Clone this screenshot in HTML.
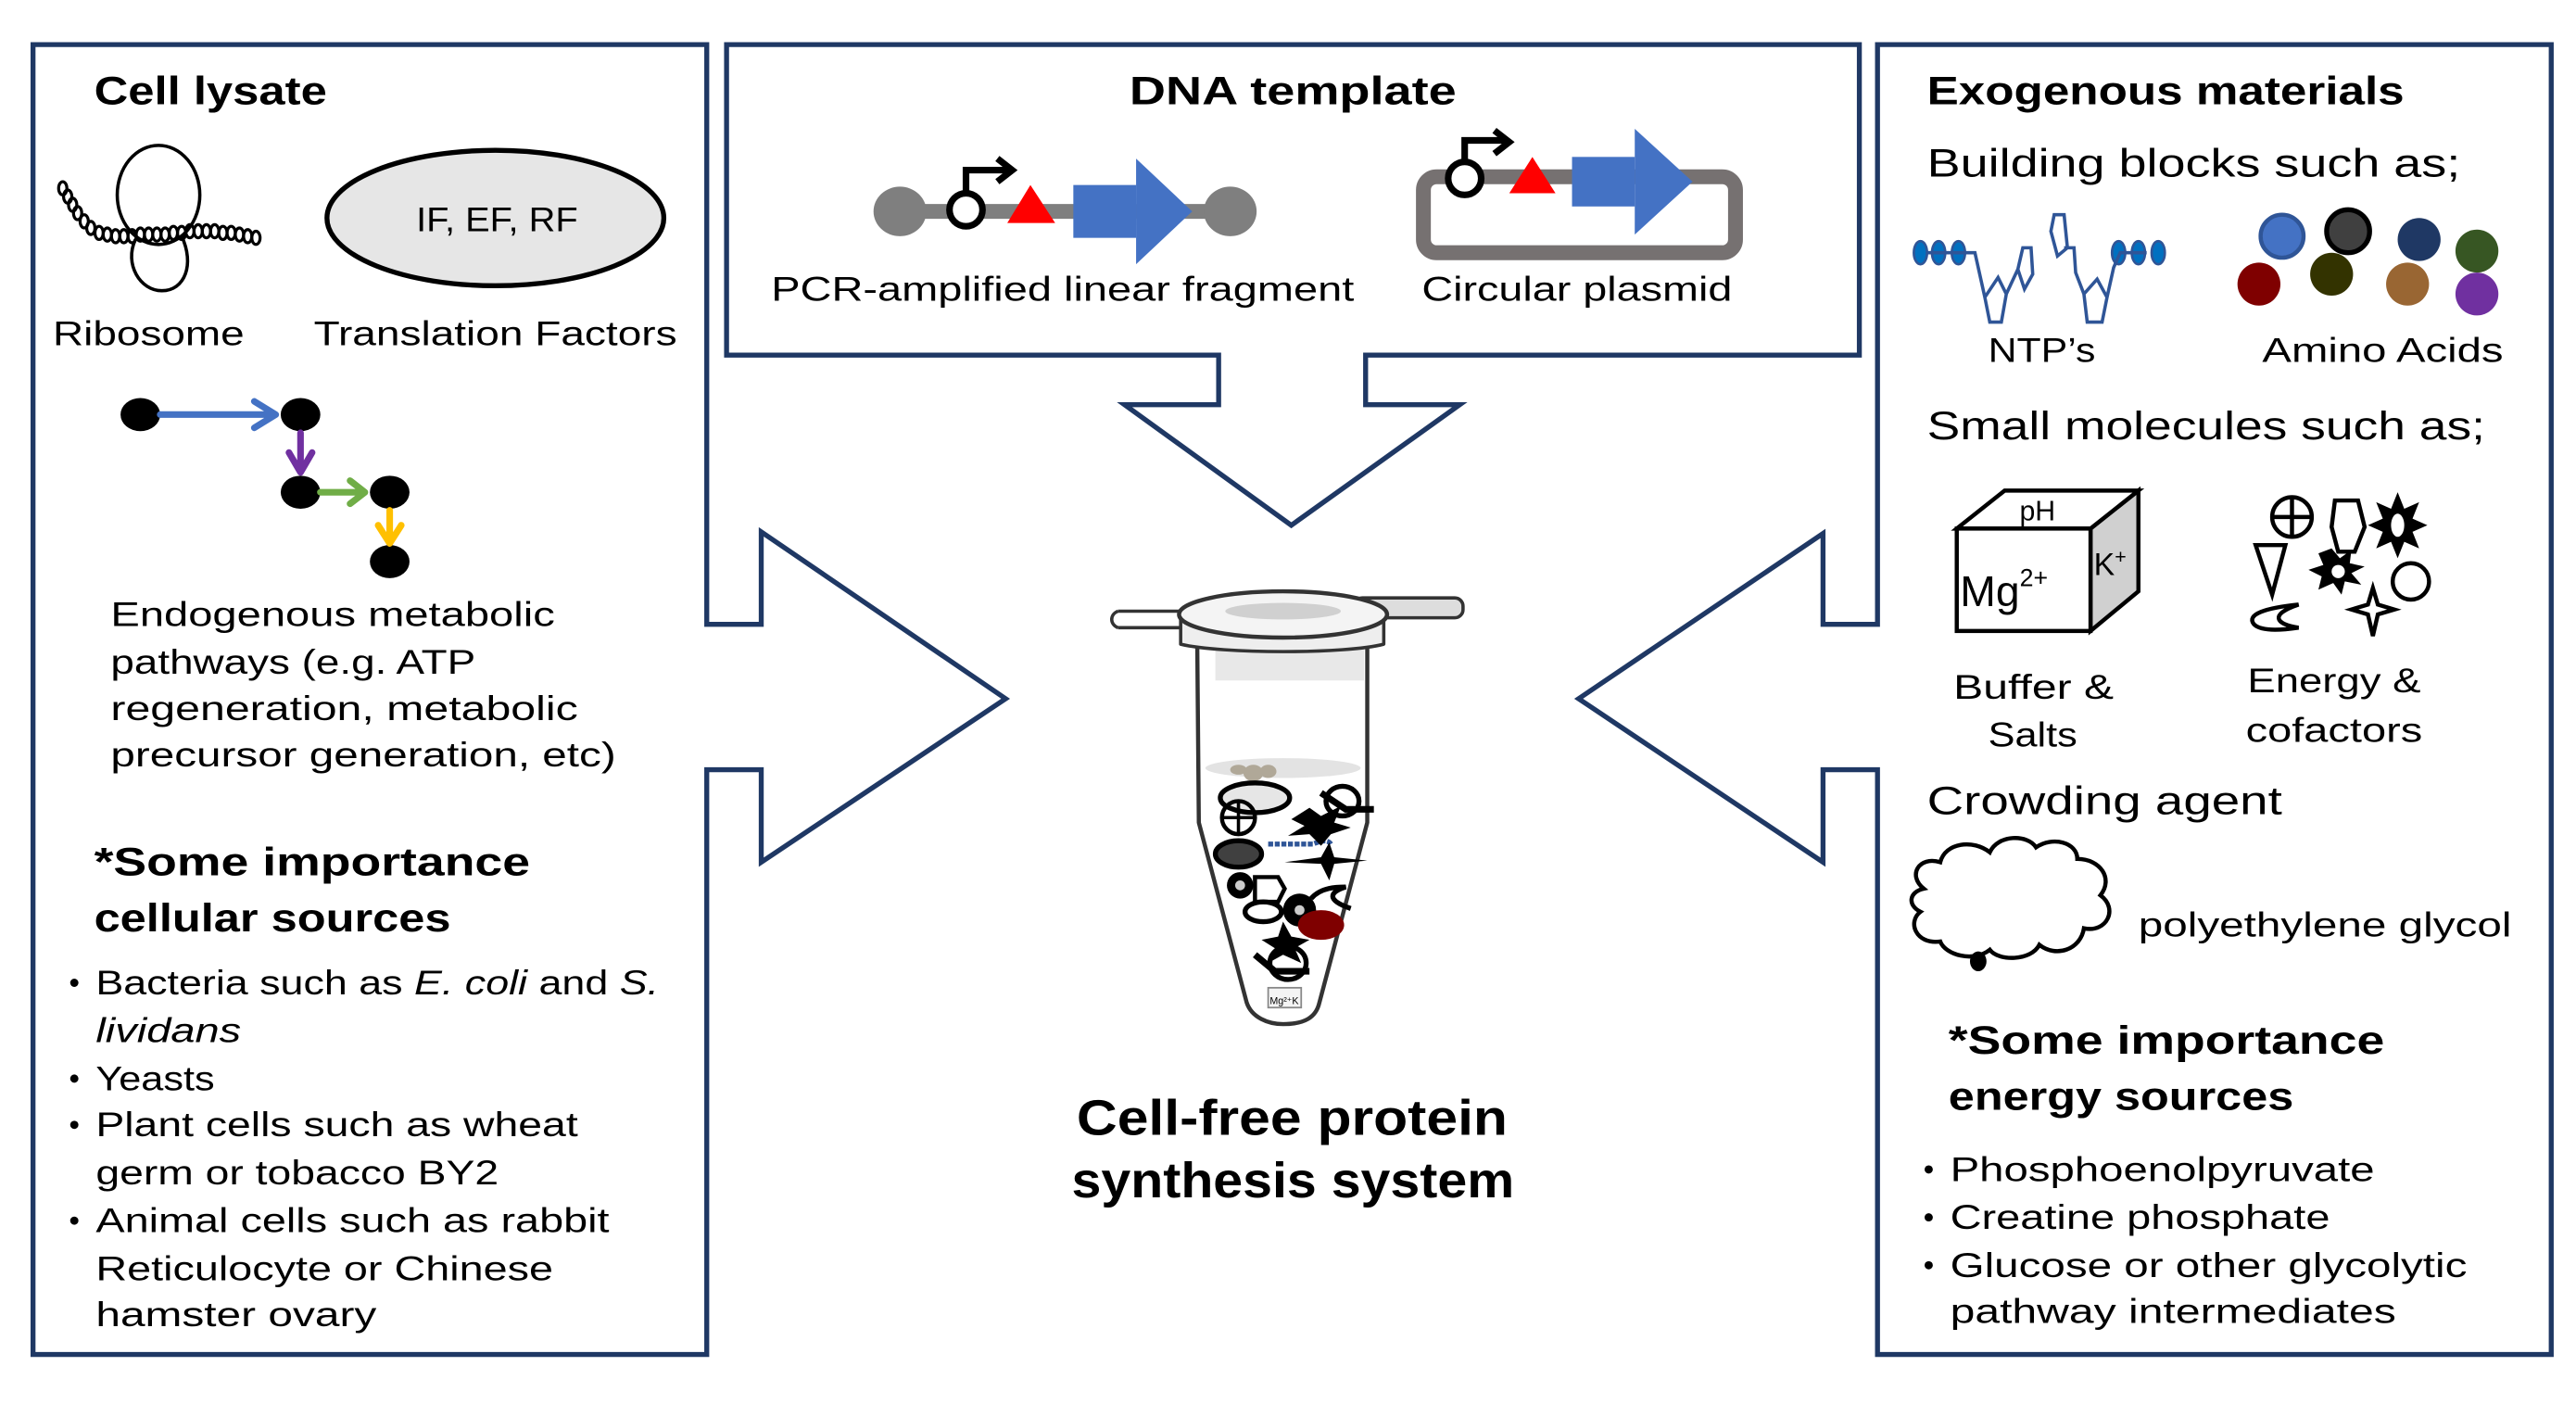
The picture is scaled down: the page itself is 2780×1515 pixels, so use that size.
<!DOCTYPE html>
<html><head><meta charset="utf-8"><style>
html,body{margin:0;padding:0;background:#fff;}
svg{display:block;}
text{font-family:"Liberation Sans",sans-serif;fill:#000;}
.r{font-size:21px;}
.b{font-size:24px;font-weight:bold;}
</style></head><body>
<svg width="2780" height="1515" viewBox="0 0 1560 850" preserveAspectRatio="none" xmlns="http://www.w3.org/2000/svg">
<rect width="1560" height="850" fill="#fff"/>
<g fill="none" stroke="#1f3864" stroke-width="3">
<path d="M20,27 L428,27 L428,378 L461,378 L461,322 L609,423 L461,522 L461,466 L428,466 L428,820 L20,820 Z"/>
<path d="M440,27 L1126,27 L1126,215 L827,215 L827,245 L884,245 L782,318 L681,245 L738,245 L738,215 L440,215 Z"/>
<path d="M1137,27 L1545,27 L1545,820 L1137,820 L1137,466 L1104,466 L1104,522 L956,423 L1104,323 L1104,378 L1137,378 Z"/>
</g>

<!-- LEFT -->
<text class="b" x="57" y="63" textLength="141" lengthAdjust="spacingAndGlyphs">Cell lysate</text>
<g fill="none" stroke="#000" stroke-width="2">
<ellipse cx="96" cy="118" rx="25" ry="30"/>
<path d="M82,145 C75,160 85,176 98,176 C112,176 118,160 110,143"/>
</g>
<g fill="none" stroke="#000" stroke-width="1.8">
<ellipse cx="38" cy="114" rx="2.5" ry="4"/><ellipse cx="41" cy="119" rx="2.5" ry="4"/><ellipse cx="44" cy="124" rx="2.5" ry="4"/><ellipse cx="47" cy="129" rx="2.5" ry="4"/><ellipse cx="51" cy="134" rx="2.5" ry="4"/><ellipse cx="55" cy="138" rx="2.5" ry="4"/><ellipse cx="60" cy="141" rx="2.5" ry="4"/><ellipse cx="65" cy="142" rx="2.5" ry="4"/><ellipse cx="70" cy="143" rx="2.5" ry="4"/><ellipse cx="75" cy="143" rx="2.5" ry="4"/><ellipse cx="80" cy="143" rx="2.5" ry="4"/><ellipse cx="85" cy="142" rx="2.5" ry="4"/><ellipse cx="90" cy="142" rx="2.5" ry="4"/><ellipse cx="95" cy="142" rx="2.5" ry="4"/><ellipse cx="100" cy="142" rx="2.5" ry="4"/><ellipse cx="105" cy="141" rx="2.5" ry="4"/><ellipse cx="110" cy="141" rx="2.5" ry="4"/><ellipse cx="115" cy="140" rx="2.5" ry="4"/><ellipse cx="120" cy="140" rx="2.5" ry="4"/><ellipse cx="125" cy="140" rx="2.5" ry="4"/><ellipse cx="130" cy="140" rx="2.5" ry="4"/><ellipse cx="135" cy="141" rx="2.5" ry="4"/><ellipse cx="140" cy="141" rx="2.5" ry="4"/><ellipse cx="145" cy="142" rx="2.5" ry="4"/><ellipse cx="150" cy="143" rx="2.5" ry="4"/><ellipse cx="155" cy="144" rx="2.5" ry="4"/>
</g>
<ellipse cx="300" cy="132" rx="102" ry="41" fill="#e6e6e6" stroke="#000" stroke-width="3"/>
<text class="r" x="252" y="140" textLength="98" lengthAdjust="spacingAndGlyphs">IF, EF, RF</text>
<text class="r" x="32" y="209" textLength="116" lengthAdjust="spacingAndGlyphs">Ribosome</text>
<text class="r" x="190" y="209" textLength="220" lengthAdjust="spacingAndGlyphs">Translation Factors</text>

<g fill="#000">
<ellipse cx="85" cy="251" rx="12" ry="10"/><ellipse cx="182" cy="251" rx="12" ry="10"/><ellipse cx="182" cy="298" rx="12" ry="10"/><ellipse cx="236" cy="298" rx="12" ry="10"/><ellipse cx="236" cy="340" rx="12" ry="10"/>
</g>
<g fill="none" stroke-width="4" stroke-linecap="round" stroke-linejoin="round">
<path d="M97,251 H166 M154,243 L167,251 L154,259" stroke="#4472c4"/>
<path d="M182,262 V284 M175,274 L182,286 L189,274" stroke="#7030a0"/>
<path d="M194,298 H220 M212,291 L221,298 L212,305" stroke="#70ad47"/>
<path d="M236,309 V327 M229,318 L236,329 L243,318" stroke="#ffc000"/>
</g>
<text class="r" x="67" y="379" textLength="269" lengthAdjust="spacingAndGlyphs">Endogenous metabolic</text>
<text class="r" x="67" y="408" textLength="221" lengthAdjust="spacingAndGlyphs">pathways (e.g. ATP</text>
<text class="r" x="67" y="436" textLength="283" lengthAdjust="spacingAndGlyphs">regeneration, metabolic</text>
<text class="r" x="67" y="464" textLength="306" lengthAdjust="spacingAndGlyphs">precursor generation, etc)</text>
<text class="b" x="57" y="530" textLength="264" lengthAdjust="spacingAndGlyphs">*Some importance</text>
<text class="b" x="57" y="564" textLength="216" lengthAdjust="spacingAndGlyphs">cellular sources</text>
<g class="r">
<circle cx="45" cy="595" r="2.5"/><circle cx="45" cy="653" r="2.5"/><circle cx="45" cy="681" r="2.5"/><circle cx="45" cy="739" r="2.5"/>
<text class="r" x="58" y="602" textLength="341" lengthAdjust="spacingAndGlyphs">Bacteria such as <tspan font-style="italic">E. coli</tspan> and <tspan font-style="italic">S.</tspan></text>
<text class="r" x="58" y="631" font-style="italic" textLength="88" lengthAdjust="spacingAndGlyphs">lividans</text>
<text class="r" x="58" y="660" textLength="72" lengthAdjust="spacingAndGlyphs">Yeasts</text>
<text class="r" x="58" y="688" textLength="292" lengthAdjust="spacingAndGlyphs">Plant cells such as wheat</text>
<text class="r" x="58" y="717" textLength="244" lengthAdjust="spacingAndGlyphs">germ or tobacco BY2</text>
<text class="r" x="58" y="746" textLength="311" lengthAdjust="spacingAndGlyphs">Animal cells such as rabbit</text>
<text class="r" x="58" y="775" textLength="277" lengthAdjust="spacingAndGlyphs">Reticulocyte or Chinese</text>
<text class="r" x="58" y="803" textLength="170" lengthAdjust="spacingAndGlyphs">hamster ovary</text>
</g>

<!-- DNA -->
<text class="b" x="684" y="63" textLength="198" lengthAdjust="spacingAndGlyphs">DNA template</text>
<line x1="545" y1="128" x2="745" y2="128" stroke="#7f7f7f" stroke-width="9"/>
<ellipse cx="545" cy="128" rx="16" ry="15" fill="#7f7f7f"/><ellipse cx="745" cy="128" rx="16" ry="15" fill="#7f7f7f"/>
<circle cx="585" cy="127" r="10" fill="#fff" stroke="#000" stroke-width="4"/>
<path d="M585,117 V103 H612 M604,96 L613,103 L604,110" fill="none" stroke="#000" stroke-width="4"/>
<polygon points="610,135 624,112 639,135" fill="#f00"/>
<rect x="650" y="112" width="38" height="32" fill="#4472c4"/>
<polygon points="688,96 722,128 688,160" fill="#4472c4"/>
<text class="r" x="467" y="182" textLength="353" lengthAdjust="spacingAndGlyphs">PCR-amplified linear fragment</text>
<rect x="862" y="107" width="189" height="46" rx="8" fill="none" stroke="#767171" stroke-width="9"/>
<circle cx="887" cy="108" r="10" fill="#fff" stroke="#000" stroke-width="4"/>
<path d="M887,98 V85 H913 M905,79 L914,86 L905,93" fill="none" stroke="#000" stroke-width="4"/>
<polygon points="914,117 928,95 942,117" fill="#f00"/>
<rect x="952" y="95" width="38" height="30" fill="#4472c4"/>
<polygon points="990,78 1025,110 990,142" fill="#4472c4"/>
<text class="r" x="861" y="182" textLength="188" lengthAdjust="spacingAndGlyphs">Circular plasmid</text>

<!-- CENTER TUBE -->
<g stroke-linejoin="round">
<path d="M725,385 L726,498 L755,607 C758,616 768,620 777,620 C790,620 797,616 799,607 L828,498 L828,385" fill="#fff" stroke="#333" stroke-width="2.5"/>
<rect x="736" y="390" width="90" height="22" fill="#e8e8e8"/>
<ellipse cx="777" cy="465" rx="47" ry="6" fill="#e3e3e3"/>
<path d="M677,370 H730 M677,380 H730 M677,370 C672,372 672,378 677,380" fill="none" stroke="#333" stroke-width="2"/>
<rect x="820" y="362" width="66" height="12" rx="5" fill="#ddd" stroke="#333" stroke-width="2"/>
<path d="M715,372 L715,390 C740,396 815,396 838,390 L838,372" fill="#eee" stroke="#333" stroke-width="2"/>
<ellipse cx="777" cy="372" rx="63" ry="14" fill="#f4f4f4" stroke="#333" stroke-width="2.5"/>
<ellipse cx="777" cy="370" rx="35" ry="5" fill="#d0d0d0"/>
</g>
<g>
<ellipse cx="750" cy="466" rx="5" ry="3" fill="#b0a898"/><ellipse cx="759" cy="468" rx="6" ry="5" fill="#b0a898"/><ellipse cx="768" cy="467" rx="5" ry="4" fill="#b0a898"/>
<ellipse cx="760" cy="483" rx="21" ry="9" fill="#e6e6e6" stroke="#000" stroke-width="3"/>
<circle cx="750" cy="495" r="10" fill="none" stroke="#000" stroke-width="2.5"/><path d="M740,495 H760 M750,485 V505" stroke="#000" stroke-width="2"/>
<ellipse cx="750" cy="517" rx="14" ry="8" fill="#404040" stroke="#000" stroke-width="3"/>
<path d="M768,511 H795 C800,509 804,508 806,511" fill="none" stroke="#2f5597" stroke-width="3" stroke-dasharray="3 1"/>
<ellipse cx="813" cy="485" rx="10" ry="9" fill="none" stroke="#000" stroke-width="3"/>
<path d="M800,480 L815,490 H832" stroke="#000" stroke-width="4" fill="none"/>
<polygon points="782,496 793,489 800,494 812,488 808,498 818,501 806,505 800,512 793,505 780,506 790,500" fill="#000"/>
<polygon points="778,522 800,519 805,510 808,519 828,521 808,523 805,533 800,523" fill="#000"/>
<circle cx="751" cy="536" r="8" fill="#000"/><circle cx="751" cy="536" r="3" fill="#ccc"/>
<polygon points="760,531 774,531 778,538 774,546 760,546" fill="none" stroke="#000" stroke-width="2.5"/>
<ellipse cx="765" cy="552" rx="11" ry="6" fill="none" stroke="#000" stroke-width="3"/>
<circle cx="787" cy="551" r="10" fill="#000"/><circle cx="787" cy="551" r="3" fill="#ccc"/>
<path d="M794,544 C800,537 810,537 815,537 C805,540 803,545 818,550" fill="none" stroke="#000" stroke-width="3"/>
<ellipse cx="800" cy="560" rx="14" ry="9" fill="#7f0000"/>
<polygon points="777,558 782,567 793,569 784,574 788,583 777,578 768,583 772,574 764,569 774,567" fill="#000"/>
<ellipse cx="780" cy="583" rx="11" ry="10" fill="none" stroke="#000" stroke-width="3"/>
<path d="M760,578 L772,588 H793" stroke="#000" stroke-width="4" fill="none"/>
<rect x="768" y="598" width="20" height="12" fill="#f4f4f4" stroke="#888" stroke-width="1"/><text x="769" y="608" font-size="6" fill="#555">Mg²⁺K</text>
</g>
<text x="652" y="687" font-size="30" font-weight="bold" textLength="261" lengthAdjust="spacingAndGlyphs">Cell-free protein</text>
<text x="649" y="725" font-size="30" font-weight="bold" textLength="268" lengthAdjust="spacingAndGlyphs">synthesis system</text>

<!-- RIGHT -->
<text class="b" x="1167" y="63" textLength="289" lengthAdjust="spacingAndGlyphs">Exogenous materials</text>
<text x="1167" y="107" font-size="24" textLength="323" lengthAdjust="spacingAndGlyphs">Building blocks such as;</text>
<g fill="#0070c0" stroke="#2f5597" stroke-width="1.5">
<ellipse cx="1163" cy="153" rx="4" ry="7"/><ellipse cx="1174" cy="153" rx="4" ry="7"/><ellipse cx="1186" cy="153" rx="4" ry="7"/>
<ellipse cx="1283" cy="153" rx="4" ry="7"/><ellipse cx="1295" cy="153" rx="4" ry="7"/><ellipse cx="1307" cy="153" rx="4" ry="7"/>
</g>
<path d="M1167,153 H1196 L1202,180 L1210,168 L1215,178 L1222,163 L1225,150 L1230,150 L1231,166 L1226,175 L1222,163 M1202,180 L1205,195 H1212 L1215,178 M1244,130 L1250,130 L1252,150 L1246,155 L1242,140 Z M1250,150 L1256,150 L1257,165 L1262,178 L1270,169 L1276,180 L1280,162 L1284,153 H1300 M1262,178 L1264,195 L1273,195 L1276,180" fill="none" stroke="#2f5597" stroke-width="2"/>
<circle cx="1382" cy="143" r="13" fill="#4472c4" stroke="#2f5597" stroke-width="2.5"/>
<circle cx="1422" cy="140" r="13" fill="#404040" stroke="#000" stroke-width="3"/>
<circle cx="1465" cy="145" r="13" fill="#1f3864"/>
<circle cx="1500" cy="152" r="13" fill="#375623"/>
<circle cx="1368" cy="172" r="13" fill="#7f0000"/>
<circle cx="1412" cy="166" r="13" fill="#333300"/>
<circle cx="1458" cy="172" r="13" fill="#996633"/>
<circle cx="1500" cy="178" r="13" fill="#7030a0"/>
<text class="r" x="1204" y="219" textLength="65" lengthAdjust="spacingAndGlyphs">NTP’s</text>
<text class="r" x="1370" y="219" textLength="146" lengthAdjust="spacingAndGlyphs">Amino Acids</text>
<text x="1167" y="266" font-size="24" textLength="338" lengthAdjust="spacingAndGlyphs">Small molecules such as;</text>
<polygon points="1266,320 1295,297 1295,358 1266,382" fill="#d0d0d0" stroke="#000" stroke-width="2.5"/>
<polygon points="1185,320 1214,297 1295,297 1266,320" fill="#fff" stroke="#000" stroke-width="2.5"/>
<rect x="1185" y="320" width="81" height="62" fill="#fff" stroke="#000" stroke-width="2.5"/>
<text x="1223" y="315" font-size="17">pH</text>
<text x="1187" y="367" font-size="26">Mg<tspan font-size="15" dy="-12">2+</tspan></text>
<text x="1268" y="348" font-size="19">K<tspan font-size="12" dy="-7">+</tspan></text>
<g fill="none" stroke="#000" stroke-width="2.5">
<circle cx="1388" cy="313" r="12"/><path d="M1376,313 H1400 M1388,301 V325"/>
<polygon points="1414,303 1428,303 1432,319 1426,334 1416,334 1412,319"/>
<polygon points="1366,330 1384,330 1376,360"/>
<circle cx="1460" cy="352" r="11"/>
<path d="M1392,366 C1372,368 1360,372 1365,378 C1370,383 1385,381 1392,380 C1378,378 1374,372 1392,366 Z"/>
<polygon points="1437,356 1440,366 1450,369 1440,372 1437,385 1434,372 1424,369 1434,366"/>
</g>
<polygon points="1452,298 1456,308 1465,304 1461,314 1470,318 1461,322 1465,332 1456,328 1452,338 1448,328 1439,332 1443,322 1434,318 1443,314 1439,304 1448,308" fill="#000"/>
<ellipse cx="1452" cy="318" rx="4" ry="7" fill="#fff"/>
<polygon points="1412,332 1417,338 1424,333 1423,341 1432,343 1424,347 1430,354 1420,352 1418,360 1413,353 1404,357 1406,349 1398,345 1407,342 1404,335" fill="#000"/>
<circle cx="1416" cy="346" r="4" fill="#fff"/>
<text class="r" x="1183" y="423" textLength="97" lengthAdjust="spacingAndGlyphs">Buffer &amp;</text>
<text class="r" x="1204" y="452" textLength="54" lengthAdjust="spacingAndGlyphs">Salts</text>
<text class="r" x="1361" y="419" textLength="105" lengthAdjust="spacingAndGlyphs">Energy &amp;</text>
<text class="r" x="1360" y="449" textLength="107" lengthAdjust="spacingAndGlyphs">cofactors</text>
<text x="1167" y="493" font-size="24" textLength="215" lengthAdjust="spacingAndGlyphs">Crowding agent</text>
<path d="M1165,538 C1155,530 1162,518 1175,522 C1178,510 1195,508 1205,516 C1210,505 1228,505 1233,513 C1243,506 1258,510 1258,520 C1272,520 1280,532 1272,542 C1283,550 1276,565 1262,562 C1260,575 1245,580 1235,572 C1230,582 1210,582 1205,575 C1195,583 1178,578 1175,570 C1160,572 1155,558 1163,552 C1155,548 1156,540 1165,538 Z" fill="#fff" stroke="#000" stroke-width="2.5"/>
<ellipse cx="1198" cy="582" rx="5" ry="6" fill="#000"/>
<text class="r" x="1295" y="567" textLength="226" lengthAdjust="spacingAndGlyphs">polyethylene glycol</text>
<text class="b" x="1180" y="638" textLength="264" lengthAdjust="spacingAndGlyphs">*Some importance</text>
<text class="b" x="1180" y="672" textLength="209" lengthAdjust="spacingAndGlyphs">energy sources</text>
<circle cx="1168" cy="708" r="2.5"/><circle cx="1168" cy="737" r="2.5"/><circle cx="1168" cy="766" r="2.5"/>
<text class="r" x="1181" y="715" textLength="257" lengthAdjust="spacingAndGlyphs">Phosphoenolpyruvate</text>
<text class="r" x="1181" y="744" textLength="230" lengthAdjust="spacingAndGlyphs">Creatine phosphate</text>
<text class="r" x="1181" y="773" textLength="313" lengthAdjust="spacingAndGlyphs">Glucose or other glycolytic</text>
<text class="r" x="1181" y="801" textLength="270" lengthAdjust="spacingAndGlyphs">pathway intermediates</text>
</svg>
</body></html>
